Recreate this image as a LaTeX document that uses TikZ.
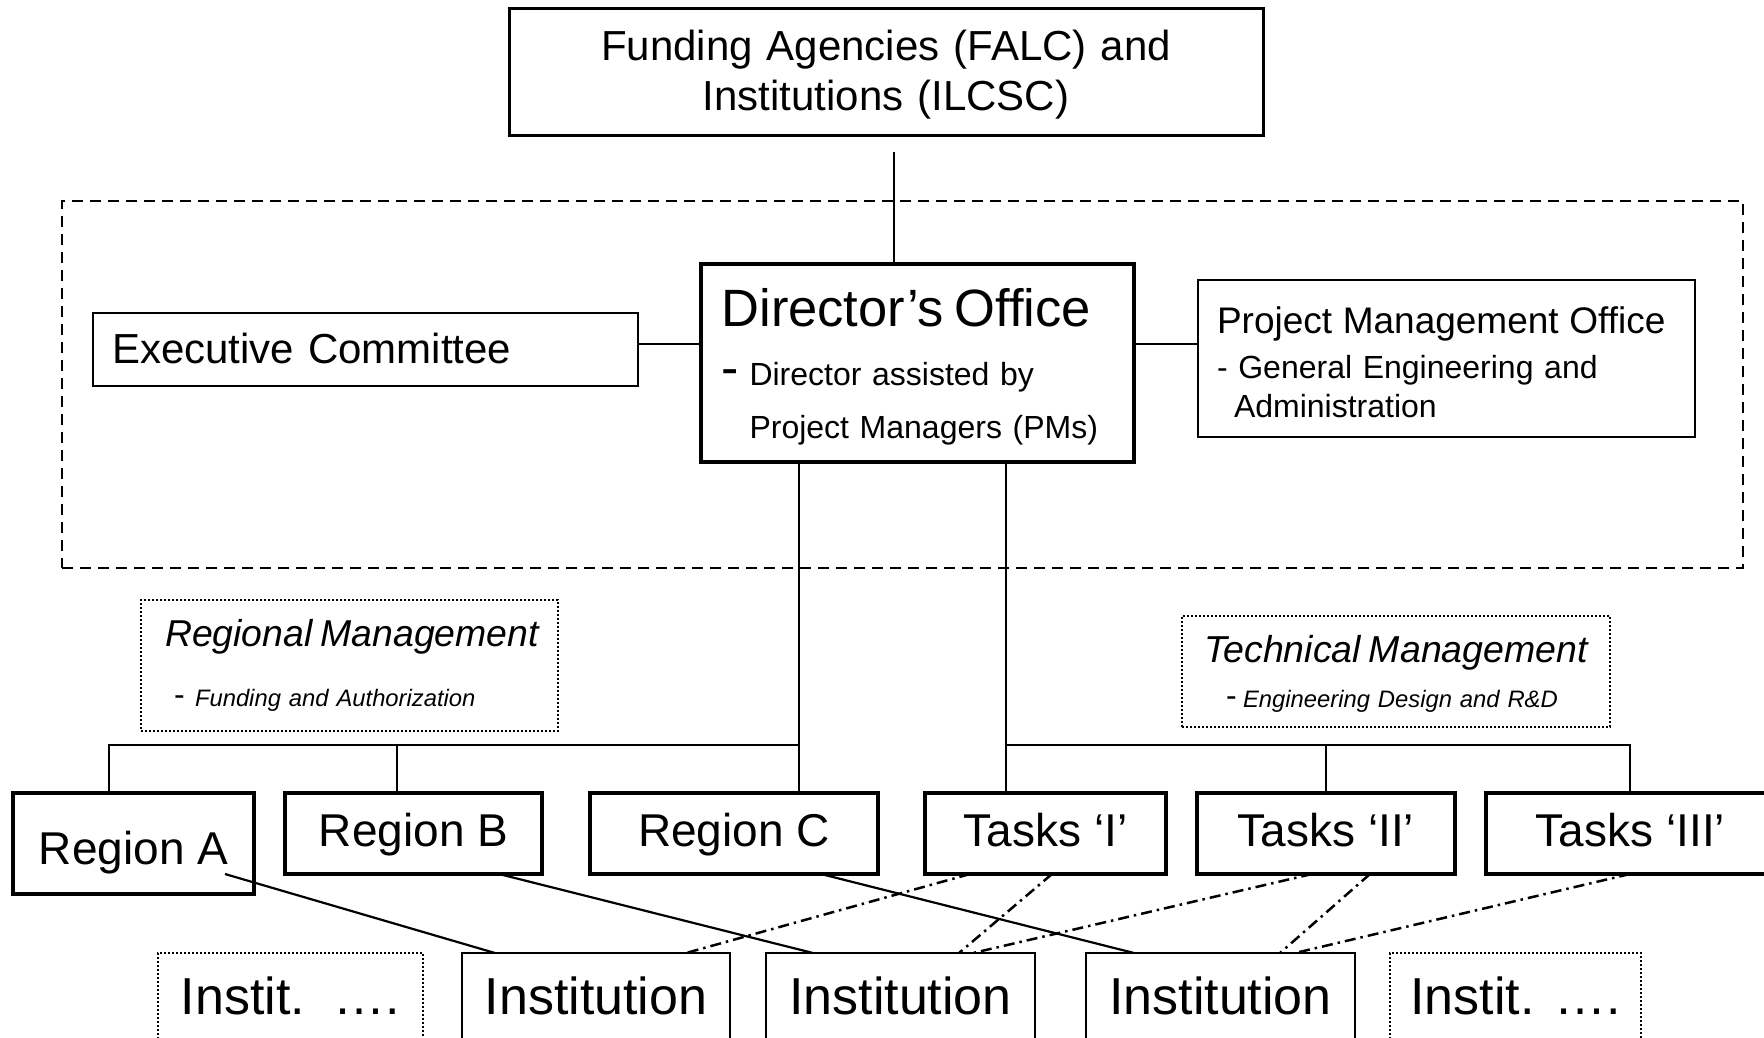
\documentclass[tikz,border=0pt]{standalone}
\usepackage{fontspec}
\setmainfont{Liberation Sans}
\begin{document}
\begin{tikzpicture}[x=1pt,y=-1pt,
  box/.style={draw, rectangle, inner sep=0pt, outer sep=0pt},
  frame/.style={box, line width=2pt, dash pattern=on 11pt off 7pt},
  dotbox/.style={box, line width=2pt, dash pattern=on 2pt off 2pt},
  unitbox/.style={box, line width=3.2pt, minimum height=81pt, font=\fontsize{46}{52}\selectfont, text height=33pt, text depth=7pt},
  instbox/.style={box, line width=2.5pt, minimum height=86pt, font=\fontsize{52}{60}\selectfont, text height=40pt, text depth=4pt},
  link/.style={line width=2.2pt},
  dotlink/.style={line width=2.5pt, dash pattern=on 11pt off 5pt on 2.5pt off 5pt}
]
\fill[white] (0,0) rectangle (1764,1037);
\useasboundingbox (0,0) rectangle (1764,1037);

% top box
\node[box, line width=3pt, minimum width=754pt, minimum height=127pt, text width=700pt, align=center,
      font=\fontsize{42}{50}\selectfont] (fund) at (886,71.5)
  {\rule{0pt}{39pt}Funding Agencies (FALC) and\\Institutions (ILCSC)\rule[-12pt]{0pt}{12pt}};

% dashed management frame
\node[frame, minimum width=1681pt, minimum height=367pt] (mgmt) at (902.5,384.5) {};

% director's office
\node[box, line width=4pt, minimum width=433pt, minimum height=198pt, text width=392pt, align=left,
      font=\fontsize{32}{53}\selectfont] (dir) at (917.5,363)
  {\rule{0pt}{48pt}{\fontsize{52.5}{53}\selectfont Director’s Office}\\[6pt]\makebox[28pt][l]{\fontsize{52}{53}\selectfont -}Director assisted by\\\hspace*{28pt}Project Managers (PMs)\rule[-10pt]{0pt}{10pt}};

% executive committee
\node[box, line width=2pt, minimum width=545pt, minimum height=73pt, text width=507pt, align=left,
      font=\fontsize{42}{50}\selectfont, text height=33pt, text depth=6pt] (exec) at (365.5,349.5)
  {Executive Committee};

% project management office
\node[box, line width=2.5pt, minimum width=497pt, minimum height=157pt, text width=459pt, align=left,
      font=\fontsize{32}{39}\selectfont] (pmo) at (1446.5,358.5)
  {\rule{0pt}{43pt}{\fontsize{37}{39}\selectfont Project Management Office}\\[6pt]- General Engineering and\\\hspace*{17pt}Administration\rule[-10pt]{0pt}{10pt}};

% regional / technical management labels
\node[dotbox, minimum width=417pt, minimum height=131pt, text width=390pt, align=left,
      font=\fontsize{23.8}{60}\selectfont] (regm) at (349.5,665.5)
  {\rule{0pt}{35pt}\hspace*{10.5pt}{\fontsize{37.4}{40}\selectfont\itshape Regional Management}\\\hspace*{19.5pt}\makebox[21pt][l]{\raisebox{1pt}{\fontsize{32}{32}\selectfont -}}{\itshape Funding and Authorization}\rule[-14pt]{0pt}{14pt}};

\node[dotbox, minimum width=428pt, minimum height=111pt, text width=392pt, align=left,
      font=\fontsize{23.8}{45}\selectfont] (tecm) at (1396,671.5)
  {\rule{0pt}{38pt}\hspace*{4pt}{\fontsize{37.5}{40}\selectfont\itshape Technical Management}\\\hspace*{26pt}\makebox[17pt][l]{\raisebox{1pt}{\fontsize{32}{32}\selectfont -}}{\itshape Engineering Design and R\&D}\rule[-12pt]{0pt}{12pt}};

% regions and tasks
\node[unitbox, minimum width=241pt, minimum height=101pt, text height=45pt, text depth=4pt] (regA) at (133.5,843.5) {Region A};
\node[unitbox, minimum width=257pt] (regB) at (413.5,833.5) {Region B};
\node[unitbox, minimum width=288pt] (regC) at (734,833.5) {Region C};
\node[unitbox, minimum width=241pt] (tI) at (1045.5,833.5) {Tasks ‘I’};
\node[unitbox, minimum width=258pt] (tII) at (1326,833.5) {Tasks ‘II’};
\node[unitbox, minimum width=289pt] (tIII) at (1630.5,833.5) {Tasks ‘III’};

% institutions
\node[instbox, dotbox, minimum width=265pt] (instL) at (290.5,996) {Instit.\ \ ….};
\node[instbox, minimum width=268pt] (inst1) at (596,996) {Institution};
\node[instbox, minimum width=269pt] (inst2) at (900.5,996) {Institution};
\node[instbox, minimum width=269pt] (inst3) at (1220.5,996) {Institution};
\node[instbox, dotbox, minimum width=251pt] (instR) at (1515.5,996) {Instit. ….};

% top connectors
\coordinate (ftop) at (894,152);
\draw[link] (ftop) -- (ftop |- dir.north);
\coordinate (hy) at (0,344);
\draw[link] (exec.east |- hy) -- (dir.west |- hy);
\draw[link] (dir.east |- hy) -- (pmo.west |- hy);

% buses
\coordinate (xL) at (799,745);
\coordinate (xA) at (109,745);
\coordinate (xB) at (397,745);
\coordinate (xR) at (1006,745);
\coordinate (xII) at (1326,745);
\coordinate (xIII) at (1630,745);
\draw[link] (dir.south -| xL) -- (xL |- regC.north);
\draw[link] (xL) -| (xA |- regA.north);
\draw[link] (xB) -- (xB |- regB.north);
\draw[link] (dir.south -| xR) -- (xR |- tI.north);
\draw[link] (xR) -| (xIII |- tIII.north);
\draw[link] (xII) -- (xII |- tII.north);

% regions to institutions
\draw[link] ([xshift=91.5pt,yshift=20pt]regA.south) -- ([xshift=-101pt]inst1.north);
\draw[link] ([xshift=85.5pt]regB.south) -- ([xshift=-87.5pt]inst2.north);
\draw[link] ([xshift=87pt]regC.south) -- ([xshift=-86.5pt]inst3.north);

% tasks to institutions
\draw[dotlink] ([xshift=-75.5pt]tI.south) -- ([xshift=90pt]inst1.north);
\draw[dotlink] ([xshift=6.5pt]tI.south) -- ([xshift=58.5pt]inst2.north);
\draw[dotlink] ([xshift=-14pt]tII.south) -- ([xshift=72.5pt]inst2.north);
\draw[dotlink] ([xshift=44pt]tII.south) -- ([xshift=59.5pt]inst3.north);
\draw[dotlink] ([xshift=-0.5pt]tIII.south) -- ([xshift=74.5pt]inst3.north);
\end{tikzpicture}
\end{document}
